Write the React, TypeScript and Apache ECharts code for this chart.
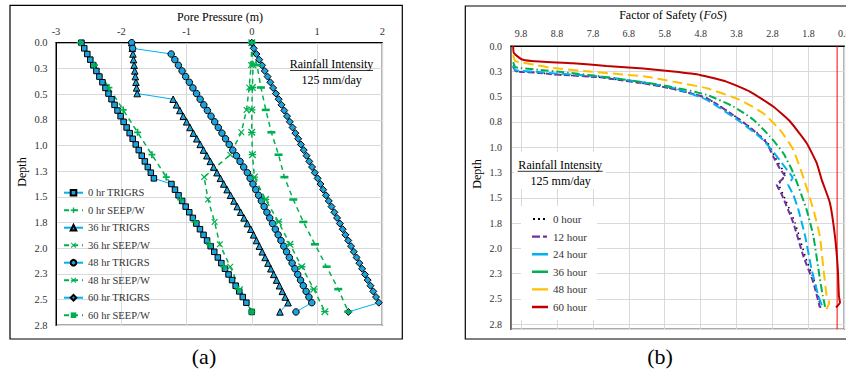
import React, { useEffect, useRef } from "react";
import * as echarts from "echarts";

// ---------- tick labels ----------
const poreTickLabels = ["-3", "-2", "-1", "0", "1", "2"];
const depthTickLabels = ["0.0", "0.3", "0.5", "0.8", "1.0", "1.3", "1.5", "1.8", "2.0", "2.3", "2.5", "2.8"];
const fosTickLabels = ["0.8", "1.8", "2.8", "3.8", "4.8", "5.8", "6.8", "7.8", "8.8", "9.8"];

// ---------- panel (a): pore pressure (m) vs depth (m) ----------
const trigrsDepth = [0, 0.055, 0.11, 0.165, 0.22, 0.275, 0.33, 0.385, 0.44, 0.495, 0.55, 0.605, 0.66, 0.715, 0.77, 0.825, 0.88, 0.935, 0.99, 1.045, 1.1, 1.155, 1.21, 1.265, 1.32, 1.375, 1.43, 1.485, 1.54, 1.595, 1.65, 1.705, 1.76, 1.815, 1.87, 1.925, 1.98, 2.035, 2.09, 2.145, 2.2, 2.255, 2.31, 2.365, 2.42, 2.475, 2.53, 2.62];
const trigrs0 = [-2.61, -2.567, -2.52, -2.474, -2.428, -2.381, -2.335, -2.288, -2.242, -2.196, -2.149, -2.103, -2.057, -2.01, -1.964, -1.918, -1.871, -1.825, -1.778, -1.732, -1.686, -1.639, -1.593, -1.547, -1.5, -1.231, -1.177, -1.122, -1.067, -1.013, -0.958, -0.903, -0.849, -0.794, -0.739, -0.685, -0.63, -0.575, -0.52, -0.466, -0.411, -0.356, -0.302, -0.247, -0.192, -0.138, -0.083, 0.0];
const trigrs36 = [-1.84, -1.831, -1.821, -1.812, -1.803, -1.793, -1.784, -1.775, -1.765, -1.756, -1.205, -1.153, -1.102, -1.05, -0.998, -0.947, -0.895, -0.843, -0.791, -0.74, -0.688, -0.636, -0.585, -0.533, -0.481, -0.43, -0.378, -0.326, -0.274, -0.223, -0.171, -0.119, -0.068, -0.016, 0.028, 0.072, 0.116, 0.16, 0.204, 0.248, 0.292, 0.336, 0.38, 0.424, 0.468, 0.512, 0.556, 0.432];
const trigrs48 = [-1.84, -1.826, -1.235, -1.179, -1.124, -1.068, -1.013, -0.957, -0.902, -0.846, -0.791, -0.735, -0.68, -0.624, -0.568, -0.513, -0.457, -0.402, -0.346, -0.291, -0.235, -0.18, -0.124, -0.068, -0.025, 0.018, 0.061, 0.104, 0.147, 0.189, 0.232, 0.275, 0.318, 0.361, 0.404, 0.447, 0.49, 0.533, 0.576, 0.618, 0.661, 0.704, 0.747, 0.79, 0.833, 0.876, 0.919, 0.677];
const trigrs60 = [0.0, 0.029, 0.071, 0.114, 0.157, 0.199, 0.242, 0.284, 0.327, 0.37, 0.412, 0.455, 0.498, 0.54, 0.583, 0.625, 0.668, 0.711, 0.753, 0.796, 0.839, 0.881, 0.924, 0.966, 1.009, 1.052, 1.094, 1.137, 1.18, 1.222, 1.265, 1.307, 1.35, 1.393, 1.435, 1.478, 1.521, 1.563, 1.606, 1.648, 1.691, 1.734, 1.776, 1.819, 1.862, 1.904, 1.947, 1.48];

const seepDepth = [0, 0.218, 0.436, 0.654, 0.872, 1.09, 1.308, 1.526, 1.744, 1.962, 2.18, 2.398, 2.617];
const seep0 = [-2.63, -2.41, -2.19, -1.97, -1.75, -1.53, -1.31, -1.09, -0.87, -0.65, -0.43, -0.21, 0.0];
const seep36 = [0.0, -0.01, -0.04, -0.08, -0.16, -0.33, -0.73, -0.67, -0.57, -0.49, -0.33, -0.18, 0.0];
const seep48 = [0.0, 0.02, 0.01, 0.0, 0.0, 0.01, 0.04, 0.21, 0.41, 0.585, 0.765, 0.95, 1.12];
const seep60 = [0.0, 0.08, 0.14, 0.215, 0.3, 0.41, 0.5, 0.636, 0.79, 0.968, 1.147, 1.325, 1.479];

// ---------- panel (b): factor of safety vs depth ----------
const fos0Depth = [0.21, 0.25, 0.262, 0.28, 0.31, 0.38, 0.43, 0.515, 0.729, 0.86, 0.959, 1.091, 1.222, 1.27, 1.37, 1.469, 1.748, 2.077, 2.339, 2.585];
const fos0 = [10.02, 9.95, 9.4, 8.9, 7.6, 6.2, 5.5, 4.63, 3.7, 3.22, 2.93, 2.74, 2.52, 2.45, 2.62, 2.5, 2.17, 1.89, 1.62, 1.46];
const fos12Depth = [0.2, 0.25, 0.262, 0.28, 0.31, 0.38, 0.43, 0.515, 0.729, 0.86, 0.959, 1.091, 1.222, 1.288, 1.37, 1.469, 1.748, 2.077, 2.339, 2.585];
const fos12 = [10.02, 9.95, 9.4, 8.9, 7.6, 6.2, 5.5, 4.63, 3.71, 3.24, 2.96, 2.78, 2.58, 2.45, 2.68, 2.54, 2.22, 1.94, 1.66, 1.48];
const fos24Depth = [0.19, 0.24, 0.255, 0.27, 0.3, 0.37, 0.42, 0.532, 0.746, 0.927, 1.091, 1.222, 1.304, 1.37, 1.469, 1.617, 1.88, 2.208, 2.471, 2.585];
const fos24 = [10.02, 9.95, 9.4, 8.9, 7.6, 6.2, 5.5, 4.63, 3.71, 3.06, 2.68, 2.4, 2.24, 2.36, 2.22, 2.08, 1.89, 1.71, 1.52, 1.4];
const fos36Depth = [0.16, 0.21, 0.236, 0.26, 0.296, 0.36, 0.407, 0.483, 0.598, 0.729, 0.894, 1.058, 1.255, 1.617, 1.88, 2.208, 2.471, 2.57, 2.6];
const fos36 = [10.02, 9.95, 9.28, 8.6, 7.7, 6.35, 5.56, 4.63, 3.89, 3.33, 2.87, 2.5, 2.22, 1.85, 1.66, 1.52, 1.4, 1.34, 1.38];
const fos48Depth = [0.09, 0.15, 0.164, 0.19, 0.214, 0.253, 0.302, 0.352, 0.417, 0.532, 0.664, 0.828, 1.025, 1.32, 1.617, 1.88, 2.208, 2.471, 2.536, 2.6];
const fos48 = [10.02, 9.96, 9.74, 9.35, 9.0, 7.88, 6.35, 5.56, 4.63, 3.71, 3.06, 2.59, 2.22, 1.92, 1.66, 1.48, 1.38, 1.29, 1.22, 1.29];
const fos60Depth = [0, 0.07, 0.131, 0.148, 0.171, 0.197, 0.222, 0.253, 0.286, 0.352, 0.45, 0.598, 0.746, 0.959, 1.156, 1.321, 1.551, 1.88, 2.208, 2.471, 2.536, 2.585];
const fos60 = [10.02, 10.0, 9.79, 9.51, 8.35, 7.42, 6.4, 5.56, 4.82, 4.08, 3.43, 2.78, 2.31, 1.85, 1.57, 1.43, 1.2, 1.06, 0.98, 0.95, 0.92, 1.03];
const fosCritical = 1.0;
const fosLineDepth = [0, 2.8];

const ff = "Liberation Serif";

const plusPath = "path://M3,0H5V3H8V5H5V8H3V5H0V3H3Z";
const crossPath = "path://M1,0L4,3L7,0L8,1L5,4L8,7L7,8L4,5L1,8L0,7L3,4L0,1Z";
const starPath = "path://M1,0L4,3L7,0L8,1L5,4L8,7L7,8L4,5L1,8L0,7L3,4L0,1ZM0,3.3H8V4.7H0Z";
const dashPath = "path://M0,0H10V3H0Z";

// legend icons for panel (b): tiny corner dots fix the 16x14 box
const box = "M0,0h0.01v0.01h-0.01zM15.99,13.99h0.01v0.01h-0.01z";
const iconSolid = "path://" + box + "M0,5.8h16v2.4h-16z";
const iconDotted = "path://" + box + "M1,6h2v2h-2zM6,6h2v2h-2zM11,6h2v2h-2z";
const iconDashed = "path://" + box + "M0,5.8h8v2.4h-8zM11,5.8h4v2.4h-4z";

const zip = (xs: number[], ys: number[]) => xs.map((x, i) => [x, ys[i]]);

const depthFmt = (v: number) => {
  const i = Math.round(v / 0.25);
  return Math.abs(v - i * 0.25) < 1e-4 && depthTickLabels[i] !== undefined ? depthTickLabels[i] : "";
};
const poreFmt = (v: number) => {
  const i = Math.round(v + 3);
  return Math.abs(v + 3 - i) < 1e-4 && poreTickLabels[i] !== undefined ? poreTickLabels[i] : "";
};
const fosFmt = (v: number) => {
  const i = Math.round(v - 0.8);
  return Math.abs(v - 0.8 - i) < 1e-3 && fosTickLabels[i] !== undefined ? fosTickLabels[i] : "";
};

const TRIGRS_LINE = "#00B0F0";
const TRIGRS_FILL = "#1AA3DE";
const SEEP = "#00B050";

function trigrs(name: string, vals: number[], symbol: string, size: number) {
  return {
    type: "line", name, xAxisIndex: 0, yAxisIndex: 0,
    data: zip(vals, trigrsDepth),
    symbol, symbolSize: size, showSymbol: true,
    lineStyle: { color: TRIGRS_LINE, width: 1 },
    itemStyle: { color: TRIGRS_FILL, borderColor: "#000", borderWidth: 1 },
    emphasis: { disabled: true },
  };
}
function seep(name: string, vals: number[], symbol: string, size: any) {
  return {
    type: "line", name, xAxisIndex: 0, yAxisIndex: 0,
    data: zip(vals, seepDepth),
    symbol, symbolSize: size, showSymbol: true,
    lineStyle: { color: SEEP, width: 1.5, type: [5, 4] },
    itemStyle: { color: SEEP, borderWidth: 0 },
    emphasis: { disabled: true },
  };
}
function fos(name: string, depth: number[], vals: number[], color: string, type: any, width: number) {
  return {
    type: "line", name, xAxisIndex: 1, yAxisIndex: 1,
    data: zip(vals, depth),
    symbol: "none", smooth: 0.15,
    lineStyle: { color, width, type },
    itemStyle: { color },
    emphasis: { disabled: true },
  };
}

export default function App() {
  const ref = useRef<HTMLDivElement>(null);
  useEffect(() => {
    if (!ref.current) return;
    const chart = echarts.init(ref.current, undefined, { renderer: "svg" });
    const split = { show: true, lineStyle: { color: "#D9D9D9", width: 1 } };
    const option: any = {
      animation: false,
      backgroundColor: "#fff",
      textStyle: { fontFamily: ff },
      grid: [
        { left: 56, top: 42.7, width: 326.3, height: 282.6, show: true, borderColor: "#595959", borderWidth: 1.5, containLabel: false, outerBoundsMode: "none" },
        { left: 511, top: 46, width: 333.3, height: 283.3, show: true, borderColor: "#595959", borderWidth: 1.5, containLabel: false, outerBoundsMode: "none" },
      ],
      xAxis: [
        {
          type: "value", gridIndex: 0, position: "top", min: -3, max: 2, interval: 1,
          axisLine: { show: true, onZero: false, lineStyle: { color: "#000", width: 1 } },
          axisTick: { show: false }, splitLine: split,
          axisLabel: { fontSize: 10.5, color: "#333", fontFamily: ff, margin: 6, formatter: poreFmt },
        },
        {
          type: "value", gridIndex: 1, position: "top", inverse: true, min: 0.8, max: 10.08, interval: 1,
          axisLine: { show: true, onZero: false, lineStyle: { color: "#000", width: 1 } },
          axisTick: { show: false }, splitLine: split,
          axisLabel: { fontSize: 10, color: "#333", fontFamily: ff, margin: 7.5, formatter: fosFmt },
        },
      ],
      yAxis: [
        {
          type: "value", gridIndex: 0, inverse: true, min: 0, max: 2.75, interval: 0.25,
          axisLine: { show: true, onZero: false, lineStyle: { color: "#000", width: 1 } },
          axisTick: { show: false }, splitLine: split,
          axisLabel: { fontSize: 10.5, color: "#333", fontFamily: ff, margin: 8.5, formatter: depthFmt },
        },
        {
          type: "value", gridIndex: 1, inverse: true, min: 0, max: 2.8, interval: 0.25,
          axisLine: { show: true, onZero: false, lineStyle: { color: "#595959", width: 1.5 } },
          axisTick: { show: false }, splitLine: split,
          axisLabel: { fontSize: 10, color: "#333", fontFamily: ff, margin: 9, formatter: depthFmt },
        },
      ],
      legend: [
        {
          orient: "vertical", left: 63, top: 185.7, padding: 0,
          itemWidth: 19, itemHeight: 7, itemGap: 3.5,
          textStyle: { fontSize: 10.5, color: "#333", fontFamily: ff, lineHeight: 14 },
          data: ["0 hr TRIGRS", "0 hr SEEP/W", "36 hr TRIGRS", "36 hr SEEP/W", "48 hr TRIGRS", "48 hr SEEP/W", "60 hr TRIGRS", "60 hr SEEP/W"],
          selectedMode: false,
        },
        {
          orient: "vertical", left: 521, top: 206, padding: [6, 10, 6, 11],
          backgroundColor: "#fff",
          itemWidth: 16, itemHeight: 14, itemGap: 3.6,
          textStyle: { fontSize: 11, color: "#333", fontFamily: ff, lineHeight: 14 },
          data: [
            { name: "0 hour", icon: iconDotted },
            { name: "12 hour", icon: iconDashed },
            { name: "24 hour", icon: iconSolid },
            { name: "36 hour", icon: iconSolid },
            { name: "48 hour", icon: iconSolid },
            { name: "60 hour", icon: iconSolid },
          ],
          selectedMode: false,
        },
      ],
      series: [
        trigrs("0 hr TRIGRS", trigrs0, "rect", 5.5),
        seep("0 hr SEEP/W", seep0, plusPath, 7),
        trigrs("36 hr TRIGRS", trigrs36, "triangle", 6.5),
        seep("36 hr SEEP/W", seep36, crossPath, 6.5),
        trigrs("48 hr TRIGRS", trigrs48, "circle", 6.5),
        seep("48 hr SEEP/W", seep48, starPath, 7.5),
        trigrs("60 hr TRIGRS", trigrs60, "diamond", 7),
        seep("60 hr SEEP/W", seep60, dashPath, [8, 2.6]),
        {
          type: "line", name: "FoS = 1", xAxisIndex: 1, yAxisIndex: 1,
          data: fosLineDepth.map((d) => [fosCritical, d]),
          symbol: "none", lineStyle: { color: "#FF0000", width: 1 }, emphasis: { disabled: true },
        },
        fos("0 hour", fos0Depth, fos0, "#000000", [1.5, 4], 1.5),
        fos("12 hour", fos12Depth, fos12, "#7030A0", [6, 3], 2),
        fos("24 hour", fos24Depth, fos24, "#00B0F0", [9, 4], 2),
        fos("36 hour", fos36Depth, fos36, "#00B050", [8, 3, 1.5, 3], 2),
        fos("48 hour", fos48Depth, fos48, "#FFC000", [10, 5], 2),
        fos("60 hour", fos60Depth, fos60, "#C00000", "solid", 2),
      ],
      graphic: [
        { type: "rect", z: 0, shape: { x: 10, y: 5.3, width: 392.3, height: 333.7 }, style: { fill: "none", stroke: "#000", lineWidth: 1.2 } },
        { type: "rect", z: 0, shape: { x: 465.3, y: 6, width: 400, height: 333 }, style: { fill: "none", stroke: "#000", lineWidth: 1.2 } },
        { type: "text", z: 10, x: 220, y: 17, style: { text: "Pore Pressure (m)", fontSize: 12, fontFamily: ff, fill: "#000", align: "center", verticalAlign: "middle" } },
        {
          type: "text", z: 10, x: 673, y: 15,
          style: {
            text: "{a|Factor of Safety (}{b|FoS}{a|)}", align: "center", verticalAlign: "middle",
            rich: { a: { fontSize: 12, fontFamily: ff, fill: "#000", color: "#000" }, b: { fontSize: 12, fontFamily: ff, fontStyle: "italic", fill: "#000", color: "#000" } },
          },
        },
        { type: "text", z: 10, x: 22, y: 172, rotation: Math.PI / 2, style: { text: "Depth", fontSize: 12, fontFamily: ff, fill: "#000", align: "center", verticalAlign: "middle" } },
        { type: "text", z: 10, x: 477, y: 174, rotation: Math.PI / 2, style: { text: "Depth", fontSize: 12, fontFamily: ff, fill: "#000", align: "center", verticalAlign: "middle" } },
        { type: "text", z: 10, x: 331.5, y: 64, style: { text: "Rainfall Intensity", fontSize: 12, fontFamily: ff, fill: "#000", align: "center", verticalAlign: "middle" } },
        { type: "line", z: 10, shape: { x1: 290, y1: 70.5, x2: 373, y2: 70.5 }, style: { stroke: "#000", lineWidth: 0.8 } },
        { type: "text", z: 10, x: 331.7, y: 79.5, style: { text: "125 mm/day", fontSize: 12, fontFamily: ff, fill: "#000", align: "center", verticalAlign: "middle" } },
        { type: "rect", z: 1, shape: { x: 514, y: 152, width: 92, height: 37 }, style: { fill: "#fff", stroke: "none" } },
        { type: "text", z: 10, x: 560.2, y: 165, style: { text: "Rainfall Intensity", fontSize: 12, fontFamily: ff, fill: "#000", align: "center", verticalAlign: "middle" } },
        { type: "line", z: 10, shape: { x1: 517.7, y1: 171.3, x2: 602.7, y2: 171.3 }, style: { stroke: "#000", lineWidth: 0.8 } },
        { type: "text", z: 10, x: 560.7, y: 180.5, style: { text: "125 mm/day", fontSize: 12, fontFamily: ff, fill: "#000", align: "center", verticalAlign: "middle" } },
        { type: "text", z: 10, x: 204, y: 356, style: { text: "(a)", fontSize: 22, fontFamily: ff, fill: "#000", align: "center", verticalAlign: "middle" } },
        { type: "text", z: 10, x: 660, y: 356, style: { text: "(b)", fontSize: 22, fontFamily: ff, fill: "#000", align: "center", verticalAlign: "middle" } },
      ],
    };
    chart.setOption(option);
    return () => chart.dispose();
  }, []);
  return <div ref={ref} style={{ position: "absolute", left: 0, top: 0, width: 846, height: 374 }} />;
}
